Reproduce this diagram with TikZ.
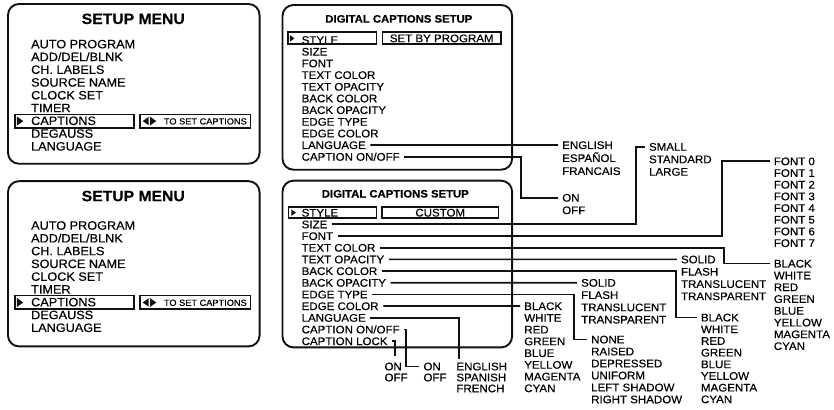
\documentclass[tikz,border=0pt]{standalone}
\usepackage{fontspec}
\setmainfont{Liberation Sans}[FakeStretch=1.05, FakeBold=0.4]
\definecolor{ink}{HTML}{111111}
\newcommand{\selmark}[3]{\fill[ink] (#1,{#2}) ++(0,-#3) -- ++({1.4*#3},#3) -- ++({-1.4*#3},#3) -- cycle;}
\newcommand{\selmarkleft}[3]{\fill[ink] (#1,{#2}) ++(0,-#3) -- ++({-1.4*#3},#3) -- ++({1.4*#3},#3) -- cycle;}
\newcommand{\capcolors}{BLACK,WHITE,RED,GREEN,BLUE,YELLOW,MAGENTA,CYAN}
\tikzset{
  panel/.style={draw=ink, line width=1.9pt, rounded corners=11pt},
  selbox/.style={draw=ink, line width=1.5pt},
  valbox/.style={draw=ink, line width=1.5pt, inner sep=0pt, minimum height=12pt, font=\fontsize{11}{11}\selectfont, text height=7.9pt, text depth=0pt},
  menutitle/.style={inner sep=0pt, font=\bfseries\fontsize{15}{15}\selectfont, text height=10.7pt, text depth=0pt},
  dcstitle/.style={inner sep=0pt, font=\bfseries\fontsize{10.8}{10.8}\selectfont, text height=7.7pt, text depth=0pt},
  menuitem/.style={anchor=west, inner sep=0pt, font=\fontsize{12.1}{12.1}\selectfont, text height=8.7pt, text depth=0pt},
  dcsitem/.style={anchor=west, inner xsep=1.5pt, inner ysep=0pt, font=\fontsize{11}{11}\selectfont, text height=7.9pt, text depth=0pt},
  opt/.style={dcsitem, inner xsep=4pt},
  hint/.style={anchor=west, inner sep=0pt, font=\fontsize{8.8}{8.8}\selectfont, text height=6.3pt, text depth=0pt},
  wire/.style={draw=ink, line width=1.7pt, shorten <=3pt},
}

\begin{document}
\begin{tikzpicture}[x=1pt,y=-1pt]
  \fill[white] (0,0) rectangle (834,410);
  % the two setup menus
  \foreach \m/\ya/\yb/\dk in {ma/4/164/0, mb/181.5/347/181.7} {
    \draw[panel] (8,\ya) rectangle (260,\yb);
    \node[menutitle] (\m-title) at (133.5,{\ya+14.7}) {SETUP MENU};
    \foreach \t [count=\k from 0] in {AUTO PROGRAM,ADD/DEL/BLNK,CH. LABELS,SOURCE NAME,CLOCK SET,TIMER,CAPTIONS,DEGAUSS,LANGUAGE}
      \node[menuitem] (\m-\k) at (31,{44+\dk+12.8*\k}) {\t};
    \draw[selbox] (15,{114.5+\dk}) rectangle (134,{128+\dk});
    \selmark{17}{121.3+\dk}{4.5}
    \draw[selbox] (140,{114.5+\dk}) rectangle (251,{128+\dk});
    \selmarkleft{149}{121.3+\dk}{4.3}
    \selmark{150.5}{121.3+\dk}{4.3}
    \node[hint] (\m-hint) at (164,{121.5+\dk}) {TO SET CAPTIONS};
  }

  % digital captions setup, set by program
  \draw[panel] (283,5) rectangle (513,170);
  \node[dcstitle] (da-title) at (399.5,18.8) {DIGITAL CAPTIONS SETUP};
  \foreach \t [count=\k from 0] in {STYLE,SIZE,FONT,TEXT COLOR,TEXT OPACITY,BACK COLOR,BACK OPACITY,EDGE TYPE,EDGE COLOR,LANGUAGE,CAPTION ON/OFF}
    \node[dcsitem] (da-\k) at (300.5,{40+11.7*\k}) {\t};
  \draw[selbox] (288.5,32.3) rectangle (377.3,44.3);
  \selmark{290.5}{38.5}{3.2}
  \node[valbox, minimum width=118.4pt] (da-value) at (442.5,38.3) {SET BY PROGRAM};

  % digital captions setup, custom
  \draw[panel] (283,181) rectangle (513,348);
  \node[dcstitle] (db-title) at (396,194) {DIGITAL CAPTIONS SETUP};
  \foreach \t [count=\k from 0] in {STYLE,SIZE,FONT,TEXT COLOR,TEXT OPACITY,BACK COLOR,BACK OPACITY,EDGE TYPE,EDGE COLOR,LANGUAGE,CAPTION ON/OFF,CAPTION LOCK}
    \node[dcsitem] (db-\k) at (300.5,{213+11.7*\k}) {\t};
  \draw[selbox] (289,207.3) rectangle (377,218.5);
  \selmark{292}{213}{3.2}
  \node[valbox, minimum width=116.3pt, minimum height=11.2pt] (db-value) at (441,212.9) {CUSTOM};

  % choices
  \foreach \t [count=\k from 0] in {ENGLISH,ESPAÑOL,FRANCAIS}
    \node[opt] (tl-\k) at (559,{145.3+13*\k}) {\t};
  \foreach \t [count=\k from 0] in {ON,OFF}
    \node[opt] (to-\k) at (559,{198+12.5*\k}) {\t};
  \foreach \t [count=\k from 0] in {SMALL,STANDARD,LARGE}
    \node[opt] (sz-\k) at (646,{147+12.5*\k}) {\t};
  \foreach \k in {0,...,7}
    \node[opt] (fn-\k) at (771,{161.5+11.7*\k}) {FONT \k};
  \foreach \t [count=\k from 0] in \capcolors
    \node[opt] (tc-\k) at (771,{264+11.8*\k}) {\t};
  \foreach \t [count=\k from 0] in {SOLID,FLASH,TRANSLUCENT,TRANSPARENT}
    \node[opt] (tp-\k) at (678,{259.8+12.3*\k}) {\t};
  \foreach \t [count=\k from 0] in \capcolors
    \node[opt] (bc-\k) at (698,{318+11.7*\k}) {\t};
  \foreach \t [count=\k from 0] in {SOLID,FLASH,TRANSLUCENT,TRANSPARENT}
    \node[opt] (bo-\k) at (578,{283.2+12.3*\k}) {\t};
  \foreach \t [count=\k from 0] in {NONE,RAISED,DEPRESSED,UNIFORM,LEFT SHADOW,RIGHT SHADOW}
    \node[opt] (et-\k) at (588,{340+12*\k}) {\t};
  \foreach \t [count=\k from 0] in \capcolors
    \node[opt] (ec-\k) at (521,{306.6+11.75*\k}) {\t};
  \foreach \t [count=\k from 0] in {ENGLISH,SPANISH,FRENCH}
    \node[opt] (ll-\k) at (453,{367+11*\k}) {\t};
  \foreach \t [count=\k from 0] in {ON,OFF}
    \node[opt] (oo-\k) at (420,{367+11*\k}) {\t};
  \foreach \t [count=\k from 0] in {ON,OFF}
    \node[opt] (lk-\k) at (381,{367+11*\k}) {\t};

  % connectors
  \draw[wire] (da-9.east) -- (tl-0.west);
  \draw[wire] (da-10.east) -| ([xshift=-37pt]to-0.west) -- (to-0.west);
  \draw[wire] (db-1.east) -| ([xshift=-9pt]sz-0.west) -- (sz-0.west);
  \draw[wire] (db-2.east) -| ([xshift=-48pt]fn-0.west) -- (fn-0.west);
  \draw[wire] (db-3.east) -| ([xshift=-46pt]tc-0.west) -- (tc-0.west);
  \draw[wire] (db-4.east) -- (tp-0.west);
  \draw[wire] (db-5.east) -| ([xshift=-21pt]bc-0.west) -- (bc-0.west);
  \draw[wire] (db-6.east) -- (bo-0.west);
  \draw[wire] (db-7.east) -| ([xshift=-13pt]et-0.west) -- (et-0.west);
  \draw[wire] (db-8.east) -- (ec-0.west);
  \draw[wire] (db-9.east) -| ([xshift=7pt,yshift=3pt]ll-0.north west);
  \draw[wire] (db-10.east) -| ([xshift=-13pt]oo-0.west) -- (oo-0.west);
  \draw[wire] (db-11.east) -| ([xshift=15pt,yshift=6pt]lk-0.north west);
\end{tikzpicture}
\end{document}
